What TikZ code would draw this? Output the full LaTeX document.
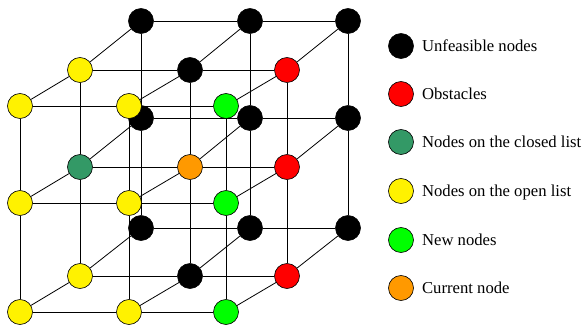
\documentclass[tikz,border=0pt]{standalone}
\usepackage{fontspec}
\setmainfont{Liberation Serif}
\usetikzlibrary{backgrounds}
\definecolor{closedgreen}{RGB}{51,153,102}
\definecolor{curorange}{RGB}{255,153,0}

\begin{document}
\begin{tikzpicture}[x=0.75pt,y=-0.75pt]
	\tikzset{
	%Define style for lattice nodes
	cell/.style={
		circle,
		draw=black, line width=0.5pt,
		minimum size=18.75pt,
		inner sep=0pt},
	%Define style for legend texts
	keytext/.style={
		anchor=base west,
		inner sep=0pt,
		xshift=6pt,
		yshift=-3.75pt,
		font=\fontsize{12.5}{15}\selectfont},
	% Define edge style
	grid/.style={
		black,
		line width=0.6pt}
}
	\useasboundingbox (0,0) rectangle (583,325);

	%layer 2 (back)
	\node[cell,fill=black] at (141,21) (200) {};
	\node[cell,fill=black] at (250,21) (201) {};
	\node[cell,fill=black] at (348,21) (202) {};
	\node[cell,fill=black] at (141,118) (210) {};
	\node[cell,fill=black] at (250,118) (211) {};
	\node[cell,fill=black] at (348,118) (212) {};
	\node[cell,fill=black] at (141,228) (220) {};
	\node[cell,fill=black] at (250,228) (221) {};
	\node[cell,fill=black] at (348,228) (222) {};
	%layer 1 (middle)
	\node[cell,fill=yellow] at (80,70) (100) {};
	\node[cell,fill=black] at (190,70) (101) {};
	\node[cell,fill=red] at (287,70) (102) {};
	\node[cell,fill=closedgreen] at (80,167) (110) {};
	\node[cell,fill=curorange] at (190,167) (111) {};
	\node[cell,fill=red] at (287,167) (112) {};
	\node[cell,fill=yellow] at (80,276) (120) {};
	\node[cell,fill=black] at (190,276) (121) {};
	\node[cell,fill=red] at (287,276) (122) {};
	%layer 0 (front)
	\node[cell,fill=yellow] at (20,106) (000) {};
	\node[cell,fill=yellow] at (129,106) (001) {};
	\node[cell,fill=green] at (226,106) (002) {};
	\node[cell,fill=yellow] at (20,203) (010) {};
	\node[cell,fill=yellow] at (129,203) (011) {};
	\node[cell,fill=green] at (226,203) (012) {};
	\node[cell,fill=yellow] at (20,312) (020) {};
	\node[cell,fill=yellow] at (129,312) (021) {};
	\node[cell,fill=green] at (226,312) (022) {};

	%lattice edges
	\begin{pgfonlayer}{background}
	\foreach \k in {0,1,2} {
		\foreach \j in {0,1,2} {
			\draw[grid] (\k\j0) -- (\k\j1) -- (\k\j2);
			\draw[grid] (\k0\j) -- (\k1\j) -- (\k2\j);
			\draw[grid] (0\k\j) -- (1\k\j) -- (2\k\j);
		}
	}
	\end{pgfonlayer}

	%legend
	\node[cell,fill=black] at (401,46) (unf) {};
	\node[cell,fill=red] at (401,94) (obs) {};
	\node[cell,fill=closedgreen] at (401,142) (cls) {};
	\node[cell,fill=yellow] at (401,191) (opn) {};
	\node[cell,fill=green] at (401,240) (new) {};
	\node[cell,fill=curorange] at (401,288) (cur) {};
	\node[keytext] at (unf.east) {Unfeasible nodes};
	\node[keytext] at (obs.east) {Obstacles};
	\node[keytext] at (cls.east) {Nodes on the closed list};
	\node[keytext] at (opn.east) {Nodes on the open list};
	\node[keytext] at (new.east) {New nodes};
	\node[keytext] at (cur.east) {Current node};

\end{tikzpicture}
\end{document}
